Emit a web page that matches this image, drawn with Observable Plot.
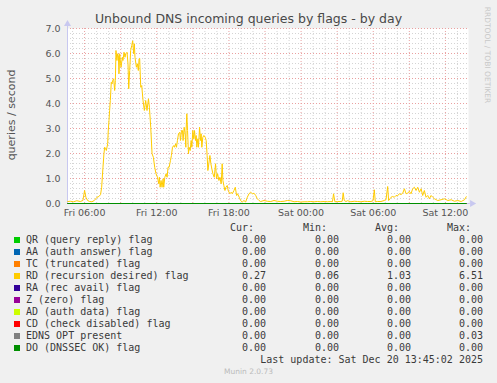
<!DOCTYPE html>
<html>
<head>
<meta charset="utf-8">
<script src="https://cdn.jsdelivr.net/npm/d3@7"></script>
<script src="https://cdn.jsdelivr.net/npm/@observablehq/plot@0.6"></script>
<style>
  html, body { margin: 0; padding: 0; background: #F0F0F0; }
  #chart { position: relative; width: 497px; height: 383px; background: #F0F0F0; overflow: hidden; font-family: "DejaVu Sans", sans-serif; }
  #chart svg { position: absolute; left: 0; top: 0; }
  .abs { position: absolute; white-space: pre; }
  .mono { font-family: "DejaVu Sans Mono", monospace; font-size: 10px; line-height: 12px; color: #3a3a3a; }
</style>
</head>
<body>
<div id="chart"></div>
<script>
// ---------- data ----------
const title = "Unbound DNS incoming queries by flags - by day";
const yLabel = "queries / second";
const sideText = "RRDTOOL / TOBI OETIKER";
const footer = "Munin 2.0.73";
const lastUpdate = "Last update: Sat Dec 20 13:45:02 2025";

// hours since Fri 2025-12-19 00:00 (UTC used for display)
const rdHours = [4.6,4.81,5.08,5.36,5.64,5.86,6.0,6.11,6.25,6.42,6.61,6.81,7.03,7.19,7.33,7.42,7.53,7.61,7.67,7.75,7.81,7.92,7.97,8.03,8.08,8.14,8.22,8.28,8.33,8.42,8.5,8.56,8.61,8.69,8.75,8.81,8.86,8.92,9.03,9.14,9.19,9.28,9.36,9.42,9.53,9.61,9.67,9.75,9.83,9.92,10.0,10.08,10.14,10.19,10.31,10.39,10.47,10.53,10.58,10.67,10.75,10.86,10.97,11.08,11.19,11.31,11.39,11.5,11.61,11.72,11.83,11.94,12.06,12.17,12.22,12.28,12.36,12.44,12.53,12.58,12.67,12.78,12.86,12.94,13.03,13.14,13.22,13.31,13.42,13.47,13.58,13.64,13.72,13.81,13.92,13.97,14.06,14.14,14.19,14.28,14.36,14.42,14.44,14.5,14.56,14.64,14.69,14.78,14.86,14.92,15.0,15.08,15.14,15.22,15.28,15.33,15.42,15.47,15.56,15.64,15.69,15.75,15.83,15.92,16.03,16.11,16.19,16.25,16.33,16.42,16.5,16.58,16.67,16.78,16.89,16.97,17.06,17.17,17.25,17.36,17.44,17.5,17.58,17.67,17.75,17.86,17.94,18.08,18.19,18.28,18.42,18.53,18.64,18.72,18.86,18.97,19.11,19.25,19.39,19.53,19.67,19.81,19.95,20.09,20.23,20.36,20.5,20.64,20.92,21.2,21.48,21.75,22.03,22.31,22.59,22.86,23.14,23.42,23.7,23.98,24.25,24.53,24.81,25.09,25.36,25.64,25.92,26.2,26.48,26.61,26.7,26.81,27.03,27.31,27.42,27.5,27.59,27.73,27.86,28.14,28.42,28.7,28.98,29.25,29.53,29.81,29.98,30.09,30.17,30.36,30.64,30.92,31.06,31.2,31.28,31.39,31.48,31.61,31.75,31.89,32.03,32.17,32.31,32.45,32.59,32.73,32.86,33.0,33.14,33.28,33.42,33.56,33.7,33.84,33.98,34.11,34.25,34.39,34.53,34.67,34.81,34.95,35.09,35.36,35.64,35.92,36.2,36.48,36.75,37.03,37.31,37.59,37.73];
const rdValues = [0.08,0.09,0.07,0.11,0.08,0.12,0.52,0.25,0.12,0.08,0.07,0.12,0.25,0.28,0.36,0.65,1.45,1.99,2.25,2.19,2.12,2.39,2.92,3.32,3.72,4.12,4.85,4.79,4.92,4.99,4.52,4.92,6.12,5.72,5.99,5.92,5.19,5.99,5.45,5.85,5.72,6.05,5.85,5.99,6.05,5.59,4.59,5.32,6.12,6.32,6.51,5.99,6.39,5.85,5.45,5.59,5.32,5.79,5.81,4.65,4.72,4.12,3.72,4.12,3.72,4.19,3.85,3.05,1.99,1.85,1.45,1.19,1.05,0.79,1.05,0.65,0.92,0.65,0.99,0.65,1.05,1.19,1.05,1.45,1.45,1.72,1.92,2.25,2.32,2.25,2.39,2.25,2.52,2.79,2.85,2.52,2.92,2.92,2.52,3.05,2.79,2.25,2.92,3.59,2.92,1.99,2.25,2.12,2.52,2.25,2.92,2.59,2.92,2.52,2.72,2.25,2.59,2.25,3.05,2.52,2.79,2.25,2.65,2.72,2.65,2.52,1.92,1.32,1.59,1.92,1.59,1.39,1.19,1.05,1.59,0.99,1.19,0.92,1.05,0.79,1.59,0.92,0.72,0.52,0.65,0.72,0.52,0.39,0.45,0.39,0.52,0.65,0.32,0.39,0.25,0.12,0.06,0.12,0.06,0.25,0.39,0.45,0.39,0.41,0.32,0.19,0.12,0.08,0.12,0.09,0.08,0.12,0.09,0.08,0.09,0.12,0.11,0.07,0.08,0.06,0.07,0.07,0.08,0.07,0.08,0.07,0.08,0.07,0.08,0.07,0.39,0.07,0.08,0.08,0.09,0.43,0.12,0.08,0.11,0.07,0.09,0.08,0.07,0.09,0.08,0.08,0.11,0.55,0.07,0.08,0.08,0.12,0.15,0.68,0.12,0.19,0.25,0.28,0.25,0.32,0.31,0.39,0.36,0.41,0.59,0.39,0.41,0.49,0.39,0.59,0.65,0.52,0.65,0.45,0.59,0.32,0.52,0.25,0.32,0.19,0.32,0.25,0.19,0.12,0.15,0.19,0.12,0.15,0.09,0.12,0.08,0.15,0.27];

const seriesNames = ["QR (query reply) flag","AA (auth answer) flag","TC (truncated) flag","RD (recursion desired) flag","RA (rec avail) flag","Z (zero) flag","AD (auth data) flag","CD (check disabled) flag","EDNS OPT present","DO (DNSSEC OK) flag"];
const seriesColors = ["#00CC00","#0066B3","#FF8000","#FFCC00","#330099","#990099","#CCFF00","#FF0000","#808080","#008F00"];
const curValues = [0.00,0.00,0.00,0.27,0.00,0.00,0.00,0.00,0.00,0.00];
const minValues = [0.00,0.00,0.00,0.06,0.00,0.00,0.00,0.00,0.00,0.00];
const avgValues = [0.00,0.00,0.00,1.03,0.00,0.00,0.00,0.00,0.00,0.00];
const maxValues = [0.00,0.00,0.00,6.51,0.00,0.00,0.00,0.00,0.03,0.00];
const statHeaders = ["Cur:","Min:","Avg:","Max:"];

const xTickHours = [6,12,18,24,30,36];
const yTicks = [0,1,2,3,4,5,6,7];
const domainHours = [4.58, 37.92];

// ---------- build ----------
const base = Date.UTC(2025, 11, 19);
const T = h => new Date(base + h * 3600e3);

const rdData = rdHours.map((h, i) => ({t: T(h), v: rdValues[i], s: seriesNames[3]}));
// flat series (all zero) drawn across the same period
const flatData = [];
seriesNames.forEach((name, i) => {
  if (i === 3) return;
  flatData.push({t: T(rdHours[0]), v: 0, s: name, order: i});
  flatData.push({t: T(rdHours[rdHours.length - 1]), v: 0, s: name, order: i});
});

const minorX = d3.range(Math.ceil(domainHours[0]), Math.floor(domainHours[1]) + 1).filter(h => h % 3 !== 0).map(T);
const majorX = d3.range(Math.ceil(domainHours[0] / 3) * 3, domainHours[1], 3).map(T);
const minorY = d3.range(1, 36).map(k => k / 5).filter(v => Math.abs(v - Math.round(v)) > 1e-6);
const majorY = yTicks.filter(v => v > 0);

const axisColor = "#C8C8F0";
const plot = Plot.plot({
  width: 497,
  height: 225,
  marginLeft: 67,
  marginRight: 29,
  marginTop: 28,
  marginBottom: 22,
  style: {background: "transparent", fontFamily: "DejaVu Sans", fontSize: "9.5px", color: "#555", overflow: "visible"},
  x: {type: "utc", domain: domainHours.map(T), ticks: xTickHours.map(T), tickFormat: d3.utcFormat("%a %H:%M"), tickSize: 0, tickPadding: 6, label: null},
  y: {domain: [yTicks[0], yTicks[yTicks.length - 1]], ticks: yTicks, tickFormat: d3.format(".1f"), tickSize: 0, tickPadding: 7, label: null},
  marks: [
    Plot.frame({fill: "white", stroke: "none"}),
    Plot.ruleX(minorX, {stroke: "#D4D4D4", strokeDasharray: "1,2"}),
    Plot.ruleY(minorY, {stroke: "#D4D4D4", strokeDasharray: "1,2"}),
    Plot.ruleX(majorX, {stroke: "#EAA0A0", strokeDasharray: "1,2"}),
    Plot.ruleY(majorY, {stroke: "#EAA0A0", strokeDasharray: "1,2"}),
    Plot.ruleX([domainHours[0]].map(T), {y1: 0, y2: 7.22, stroke: axisColor}),
    Plot.ruleY([0], {x1: T(domainHours[0]), x2: T(domainHours[1] + 0.15), stroke: axisColor}),
    Plot.dot([domainHours[0]].map(T), {x: d => d, y: 7.18, symbol: "triangle", r: 2.6, fill: axisColor, stroke: "none"}),
    Plot.dot([domainHours[1]].map(T), {x: d => new Date(+d + 0.3 * 3600e3), y: 0, symbol: "triangle", r: 2.6, rotate: 90, fill: axisColor, stroke: "none"}),
    Plot.line(rdData, {x: "t", y: "v", stroke: seriesColors[3], strokeWidth: 1}),
    Plot.line(flatData, {x: "t", y: "v", z: "s", stroke: d => seriesColors[d.order], strokeWidth: 1})
  ]
});

const chart = document.getElementById("chart");
chart.appendChild(plot);

function addText(txt, css, cls) {
  const d = document.createElement("div");
  d.className = "abs" + (cls ? " " + cls : "");
  d.textContent = txt;
  Object.assign(d.style, css);
  chart.appendChild(d);
  return d;
}

// title
addText(title, {left: "0px", width: "497px", textAlign: "center", top: "11px", fontSize: "12.5px", lineHeight: "16px", color: "#484848"});
// y label
addText(yLabel, {left: "12px", top: "115px", fontSize: "11px", lineHeight: "12px", color: "#555", transform: "translate(-50%,-50%) rotate(-90deg)"});
// side text
addText(sideText, {left: "487px", top: "55px", fontSize: "7.5px", lineHeight: "9px", color: "#C8C8C8", transform: "translate(-50%,-50%) rotate(90deg)"});
// footer
addText(footer, {left: "0px", width: "497px", textAlign: "center", top: "367px", fontSize: "7.5px", lineHeight: "10px", color: "#BBBBBB"});

// legend
const valueRight = [266, 339, 411, 483];
const headerRight = valueRight.map(r => r - 12);
const row0 = 240;
statHeaders.forEach((h, j) => addText(h, {right: (497 - headerRight[j]) + "px", top: (row0 - 12 - 6) + "px", textAlign: "right"}, "mono"));
const stats = [curValues, minValues, avgValues, maxValues];
seriesNames.forEach((name, i) => {
  const cy = row0 + 12 * i;
  const sq = document.createElement("div");
  Object.assign(sq.style, {position: "absolute", left: "14px", top: (cy - 3) + "px", width: "6px", height: "6px", background: seriesColors[i]});
  chart.appendChild(sq);
  addText(name, {left: "26px", top: (cy - 6) + "px"}, "mono");
  stats.forEach((arr, j) => addText(arr[i].toFixed(2), {right: (497 - valueRight[j]) + "px", top: (cy - 6) + "px", textAlign: "right"}, "mono"));
});
addText(lastUpdate, {right: (497 - valueRight[3]) + "px", top: (row0 + 12 * 10 - 6) + "px"}, "mono");
</script>
</body>
</html>
